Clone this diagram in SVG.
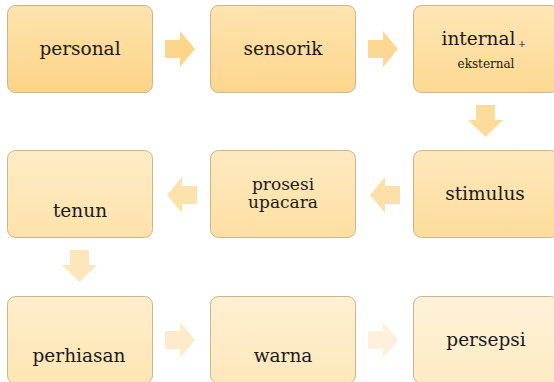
<svg xmlns="http://www.w3.org/2000/svg" width="554" height="382" viewBox="0 0 554 382">
<defs>
<linearGradient id="g1" x1="0" y1="0" x2="0" y2="1"><stop offset="0" stop-color="#fee3ad"/><stop offset="1" stop-color="#fdd487"/></linearGradient>
<linearGradient id="g2" x1="0" y1="0" x2="0" y2="1"><stop offset="0" stop-color="#fee4b0"/><stop offset="1" stop-color="#fdd68c"/></linearGradient>
<linearGradient id="g3" x1="0" y1="0" x2="0" y2="1"><stop offset="0" stop-color="#fee6b5"/><stop offset="1" stop-color="#fdd993"/></linearGradient>
<linearGradient id="g4" x1="0" y1="0" x2="0" y2="1"><stop offset="0" stop-color="#fee8bb"/><stop offset="1" stop-color="#fddc9b"/></linearGradient>
<linearGradient id="g5" x1="0" y1="0" x2="0" y2="1"><stop offset="0" stop-color="#feeac0"/><stop offset="1" stop-color="#fddfa3"/></linearGradient>
<linearGradient id="g6" x1="0" y1="0" x2="0" y2="1"><stop offset="0" stop-color="#ffecc6"/><stop offset="1" stop-color="#fee2ab"/></linearGradient>
<linearGradient id="g7" x1="0" y1="0" x2="0" y2="1"><stop offset="0" stop-color="#ffeecc"/><stop offset="1" stop-color="#fee5b3"/></linearGradient>
<linearGradient id="g8" x1="0" y1="0" x2="0" y2="1"><stop offset="0" stop-color="#fff0d3"/><stop offset="1" stop-color="#fee8bb"/></linearGradient>
<linearGradient id="g9" x1="0" y1="0" x2="0" y2="1"><stop offset="0" stop-color="#fff2d9"/><stop offset="1" stop-color="#feebc4"/></linearGradient>
</defs>
<style>
.box{stroke:#c9b58e;stroke-width:1}
.t{font-family:"DejaVu Serif","Liberation Serif",serif;font-size:18.5px;fill:#1a1a1a;text-anchor:middle}
.m{font-size:17px}
.s{font-size:12px}
</style>
<g id="connectors">
<polygon fill="#fdd68c" points="165,40 180,40 180,31 195,49 180,67 180,58 165,58"/>
<polygon fill="#fdd893" points="368,40 383,40 383,31 398,49 383,67 383,58 368,58"/>
<polygon fill="#fddb9a" points="476,105 495,105 495,120 503,120 485.5,137 468,120 476,120"/>
<polygon fill="#fde0a8" points="400,186 385,186 385,177 370,195 385,213 385,204 400,204"/>
<polygon fill="#fde2ad" points="197,186 182,186 182,177 167,195 182,213 182,204 197,204"/>
<polygon fill="#fee6bb" points="70,250 89,250 89,265 97,265 79.5,282 62,265 70,265"/>
<polygon fill="#feebcc" points="165,331 180,331 180,322 195,340 180,358 180,349 165,349"/>
<polygon fill="#fff0de" points="368,331 383,331 383,322 398,340 383,358 383,349 368,349"/>
</g>
<g id="n1"><rect class="box" x="7.5" y="5.5" width="145" height="87" rx="8" fill="url(#g1)"/><text class="t" x="80" y="55">personal</text></g>
<g id="n2"><rect class="box" x="210.5" y="5.5" width="145" height="87" rx="8" fill="url(#g2)"/><text class="t" x="283" y="55">sensorik</text></g>
<g id="n3"><rect class="box" x="413.5" y="5.5" width="145" height="87" rx="8" fill="url(#g3)"/><text class="t" x="478.5" y="45">internal</text><text class="t s" x="522" y="47" style="font-size:10px">+</text><text class="t s" x="486" y="68">eksternal</text></g>
<g id="n4"><rect class="box" x="413.5" y="150.5" width="145" height="87" rx="8" fill="url(#g4)"/><text class="t" x="485" y="200">stimulus</text></g>
<g id="n5"><rect class="box" x="210.5" y="150.5" width="145" height="87" rx="8" fill="url(#g5)"/><text class="t m" x="283" y="190">prosesi</text><text class="t m" x="283" y="208">upacara</text></g>
<g id="n6"><rect class="box" x="7.5" y="150.5" width="145" height="87" rx="8" fill="url(#g6)"/><text class="t" x="80" y="217">tenun</text></g>
<g id="n7"><rect class="box" x="7.5" y="296.5" width="145" height="87" rx="8" fill="url(#g7)"/><text class="t" x="79" y="362">perhiasan</text></g>
<g id="n8"><rect class="box" x="210.5" y="296.5" width="145" height="87" rx="8" fill="url(#g8)"/><text class="t" x="283" y="362">warna</text></g>
<g id="n9"><rect class="box" x="413.5" y="296.5" width="145" height="87" rx="8" fill="url(#g9)"/><text class="t" x="486" y="346">persepsi</text></g>
</svg>
